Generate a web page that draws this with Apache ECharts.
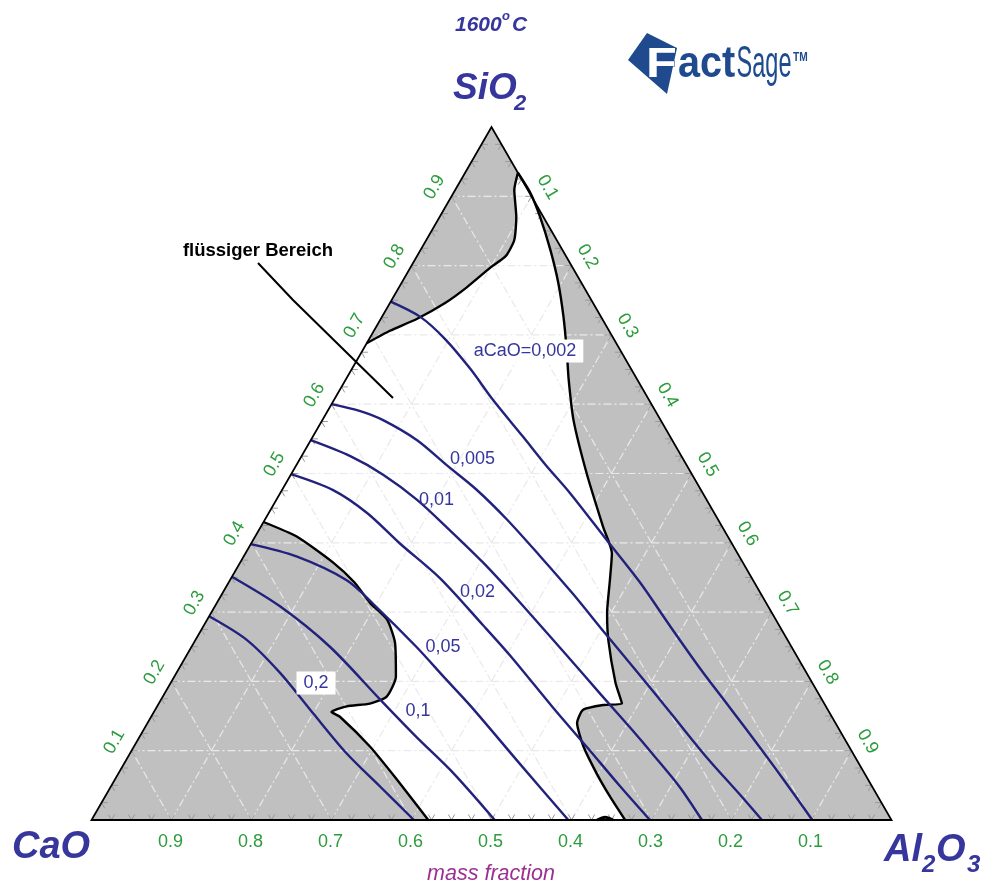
<!DOCTYPE html>
<html><head><meta charset="utf-8">
<script src="https://cdn.jsdelivr.net/npm/echarts@6/dist/echarts.min.js"></script>
<style>html,body{margin:0;padding:0;background:#fff;}#c{width:986px;height:886px;}</style>
</head><body><div id="c"></div>
<script>
// ---- data: compositions as [Al2O3, SiO2] mass fractions (CaO = 1 - both) ----
const tickValues = [0.1,0.2,0.3,0.4,0.5,0.6,0.7,0.8,0.9];
const tickLabels = ['0.1','0.2','0.3','0.4','0.5','0.6','0.7','0.8','0.9'];

const liquidTopLeft = [[0,0.688],[0.020,0.706],[0.045,0.723],[0.069,0.746],[0.085,0.769],[0.100,0.797],[0.111,0.814],[0.110,0.837],[0.096,0.870],[0.074,0.909],[0.066,0.934]];
const liquidRight = [[0.066,0.934],[0.096,0.905],[0.125,0.871],[0.162,0.823],[0.196,0.775],[0.227,0.726],[0.255,0.678],[0.279,0.635],[0.314,0.577],[0.369,0.500],[0.428,0.423],[0.458,0.385],[0.475,0.346],[0.495,0.299],[0.516,0.260],[0.556,0.198],[0.579,0.168],[0.557,0.166],[0.535,0.159],[0.537,0.140],[0.562,0.106],[0.598,0.067],[0.631,0.034],[0.667,0]];
const liquidBottomLeft = [[0.421,0],[0.353,0.058],[0.295,0.106],[0.236,0.149],[0.222,0.156],[0.237,0.164],[0.264,0.168],[0.280,0.178],[0.277,0.207],[0.252,0.255],[0.225,0.289],[0.192,0.313],[0.157,0.343],[0.117,0.371],[0.052,0.409],[0,0.430]];
const bottomBlob = [[0.632,0],[0.640,0.004],[0.652,0]];

const iso002 = [[0,0.748],[0.048,0.726],[0.095,0.694],[0.148,0.651],[0.199,0.606],[0.263,0.553],[0.312,0.512],[0.362,0.472],[0.442,0.404],[0.514,0.343],[0.582,0.281],[0.651,0.219],[0.717,0.162],[0.784,0.104],[0.843,0.052],[0.901,0]];
const iso005 = [[0,0.600],[0.041,0.590],[0.076,0.577],[0.133,0.548],[0.188,0.512],[0.241,0.478],[0.302,0.434],[0.370,0.381],[0.439,0.326],[0.509,0.268],[0.581,0.209],[0.652,0.150],[0.723,0.091],[0.793,0.036],[0.838,0]];
const iso01 = [[0,0.548],[0.061,0.525],[0.116,0.498],[0.176,0.462],[0.239,0.418],[0.303,0.372],[0.358,0.330],[0.414,0.286],[0.476,0.237],[0.545,0.182],[0.607,0.133],[0.659,0.091],[0.711,0.048],[0.763,0]];
const iso02 = [[0,0.499],[0.064,0.476],[0.123,0.443],[0.186,0.399],[0.261,0.349],[0.349,0.281],[0.405,0.237],[0.496,0.162],[0.567,0.105],[0.636,0.049],[0.698,0]];
const iso05 = [[0,0.398],[0.067,0.380],[0.146,0.346],[0.196,0.312],[0.281,0.250],[0.339,0.205],[0.391,0.165],[0.495,0.081],[0.596,0]];
const iso1 = [[0,0.351],[0.082,0.308],[0.173,0.250],[0.275,0.173],[0.346,0.120],[0.418,0.068],[0.504,0]];
const iso2 = [[0,0.294],[0.064,0.260],[0.130,0.212],[0.200,0.154],[0.271,0.096],[0.337,0.048],[0.403,0]];

const isoLabelText = ['aCaO=0,002','0,005','0,01','0,02','0,05','0,1','0,2'];
const isoLabelComp = [[0.2035,0.6768],[0.2158,0.5209],[0.2004,0.4618],[0.3184,0.3283],[0.3146,0.2496],[0.3298,0.1566],[0.1818,0.1977]];
const isoLabelBoxed = [true,false,false,false,false,false,true];

// ---- helpers ----
const SQ = Math.sqrt(3) / 2;
const tern = (al, si) => [al + si / 2, si * SQ];
const FONT = '"Liberation Sans", Arial, sans-serif';
const GRAY = '#c0c0c0', NAVY = '#22227c', LBLUE = '#36369c', GREEN = '#2c9c3c';

const chart = echarts.init(document.getElementById('c'));

function polySeries(pts, z, style) {
  return { type: 'custom', coordinateSystem: 'cartesian2d', silent: true, z: z, data: [[0, 0]],
    renderItem: (p, api) => ({ type: 'polygon',
      shape: { points: pts.map(q => api.coord(tern(q[0], q[1]))) }, style: style }) };
}
function lineSeries(pts, color, width, z, smooth) {
  return { type: 'line', data: pts.map(q => tern(q[0], q[1])), showSymbol: false, symbol: 'none',
    smooth: smooth, lineStyle: { color: color, width: width }, z: z, silent: true, clip: false };
}

const triangle = [[0,0],[1,0],[0,1]];
const liquid = liquidTopLeft.concat(liquidRight.slice(1), liquidBottomLeft);

const gridData = [];
tickValues.forEach(v => { gridData.push([0, v]); gridData.push([1, v]); gridData.push([2, v]); });
const tickData = [];
for (let i = 1; i < 40; i++) { tickData.push([0, i / 40]); tickData.push([1, i / 40]); tickData.push([2, i / 40]); }

function gridEnds(k, v) {
  if (k === 0) return [tern(0, v), tern(1 - v, v)];        // const SiO2
  if (k === 1) return [tern(v, 0), tern(v, 1 - v)];        // const Al2O3
  return [tern(1 - v, 0), tern(0, 1 - v)];                 // const CaO
}
const TL = 0.008;
function tickSegs(k, v) {
  if (k === 0) return [[tern(v, 0), tern(v, TL)], [tern(v, 0), tern(v - TL, TL)]];
  if (k === 1) return [[tern(0, v), tern(TL, v)], [tern(0, v), tern(TL, v - TL)]];
  return [[tern(v, 1 - v), tern(v - TL, 1 - v)], [tern(v, 1 - v), tern(v, 1 - v - TL)]];
}

const series = [
  polySeries(triangle, 1, { fill: GRAY }),
  polySeries(liquid, 2, { fill: '#ffffff' }),
  { type: 'custom', coordinateSystem: 'cartesian2d', silent: true, z: 3, data: gridData,
    renderItem: (p, api) => { const e = gridEnds(api.value(0), api.value(1));
      const a = api.coord(e[0]), b = api.coord(e[1]);
      return { type: 'line', shape: { x1: a[0], y1: a[1], x2: b[0], y2: b[1] },
        style: { stroke: '#e9e9e9', lineWidth: 1.2, lineDash: [8, 3, 2, 3] } }; } },
  { type: 'custom', coordinateSystem: 'cartesian2d', silent: true, z: 4, data: tickData,
    renderItem: (p, api) => { const segs = tickSegs(api.value(0), api.value(1));
      return { type: 'group', children: segs.map(s => { const a = api.coord(s[0]), b = api.coord(s[1]);
        return { type: 'line', shape: { x1: a[0], y1: a[1], x2: b[0], y2: b[1] }, style: { stroke: '#9a9a9a', lineWidth: 1 } }; }) }; } },
  lineSeries(liquidTopLeft, '#000', 2.4, 5, 0.2),
  lineSeries(liquidRight, '#000', 2.4, 5, 0.2),
  lineSeries(liquidBottomLeft, '#000', 2.4, 5, 0.2),
  lineSeries(bottomBlob, '#000', 3, 5, 0.3),
  lineSeries(iso002, NAVY, 2.4, 6, 0.3),
  lineSeries(iso005, NAVY, 2.4, 6, 0.3),
  lineSeries(iso01, NAVY, 2.4, 6, 0.3),
  lineSeries(iso02, NAVY, 2.4, 6, 0.3),
  lineSeries(iso05, NAVY, 2.4, 6, 0.3),
  lineSeries(iso1, NAVY, 2.4, 6, 0.3),
  lineSeries(iso2, NAVY, 2.4, 6, 0.3),
  polySeries(triangle, 7, { fill: 'none', stroke: '#000', lineWidth: 1.8 }),
  { type: 'scatter', silent: true, z: 10, symbolSize: 0, itemStyle: { opacity: 1 },
    data: isoLabelText.map((t, i) => ({ value: tern(isoLabelComp[i][0], isoLabelComp[i][1]),
      label: { show: true, position: 'inside', formatter: t, color: LBLUE, fontSize: 18, fontFamily: FONT, opacity: 1,
        backgroundColor: isoLabelBoxed[i] ? '#ffffff' : 'transparent', padding: isoLabelBoxed[i] ? [3, 7, 2, 7] : 0 } })) }
];

chart.setOption({
  animation: false,
  grid: { left: 91.5, top: 127, width: 800, height: 693 },
  xAxis: { type: 'value', min: 0, max: 1, show: false },
  yAxis: { type: 'value', min: 0, max: SQ, show: false },
  series: series
});

// ---- text annotations ----
const px = (al, si) => chart.convertToPixel({ xAxisIndex: 0, yAxisIndex: 0 }, tern(al, si));
const g = [];
function txt(x, y, text, o) {
  o = o || {};
  g.push({ type: 'text', x: x, y: y, rotation: o.rot || 0, scaleX: o.sx || 1, z: 100, silent: true,
    style: { text: text, fill: o.color || '#000', fontSize: o.size || 15, fontFamily: FONT,
      fontWeight: o.weight || 'normal', fontStyle: o.style || 'normal',
      align: o.align || 'center', verticalAlign: o.va || 'middle',
      stroke: o.stroke || null, lineWidth: o.lw || 0 } });
}
tickValues.forEach((v, i) => {
  const l = px(0, v); txt(l[0] - 17, l[1] - 9, tickLabels[i], { color: GREEN, size: 18, rot: Math.PI / 3 });
  const r = px(v, 1 - v); txt(r[0] + 16, r[1] - 9, tickLabels[i], { color: GREEN, size: 18, rot: -Math.PI / 3 });
  const b = px(1 - v, 0); txt(b[0] - 1, b[1] + 22, tickLabels[i], { color: GREEN, size: 18 });
});
// titles
txt(455, 25.5, '1600', { color: LBLUE, size: 21, weight: 'bold', style: 'italic', align: 'left' });
txt(502, 16, 'o', { color: LBLUE, size: 13, weight: 'bold', style: 'italic', align: 'left' });
txt(512, 25.5, 'C', { color: LBLUE, size: 21, weight: 'bold', style: 'italic', align: 'left' });
txt(453, 89, 'SiO', { color: LBLUE, size: 37, weight: 'bold', style: 'italic', align: 'left' });
txt(514, 104, '2', { color: LBLUE, size: 22, weight: 'bold', style: 'italic', align: 'left' });
txt(12, 848, 'CaO', { color: LBLUE, size: 38, weight: 'bold', style: 'italic', align: 'left' });
txt(884, 851, 'Al', { color: LBLUE, size: 38, weight: 'bold', style: 'italic', align: 'left' });
txt(922, 865, '2', { color: LBLUE, size: 24, weight: 'bold', style: 'italic', align: 'left' });
txt(936, 851, 'O', { color: LBLUE, size: 38, weight: 'bold', style: 'italic', align: 'left' });
txt(967, 865, '3', { color: LBLUE, size: 24, weight: 'bold', style: 'italic', align: 'left' });
txt(491, 874, 'mass fraction', { color: '#9b2f92', size: 21.5, style: 'italic' });
txt(258, 251, 'flüssiger Bereich', { color: '#000', size: 18.5, weight: 'bold' });
g.push({ type: 'polyline', z: 100, silent: true, shape: { points: [[258, 263], [293, 300], [393, 398]] },
  style: { stroke: '#000', lineWidth: 2, fill: null } });
// FactSage logo
const LOGO = '#1f4b8e';
g.push({ type: 'polygon', z: 99, silent: true, shape: { points: [[628, 60], [647, 33], [677, 48], [667, 94]] }, style: { fill: LOGO } });
txt(646, 65, 'F', { color: '#fff', size: 42, weight: 'bold', align: 'left', sx: 1.2, stroke: LOGO, lw: 1 });
txt(678, 64.5, 'act', { color: LOGO, size: 44, weight: 'bold', align: 'left', sx: 0.9 });
txt(736.5, 64.5, 'Sage', { color: LOGO, size: 44, align: 'left', sx: 0.535 });
txt(793, 57.5, 'TM', { color: LOGO, size: 12, weight: 'bold', align: 'left', sx: 0.85 });

chart.setOption({ graphic: { elements: g } });
</script></body></html>
